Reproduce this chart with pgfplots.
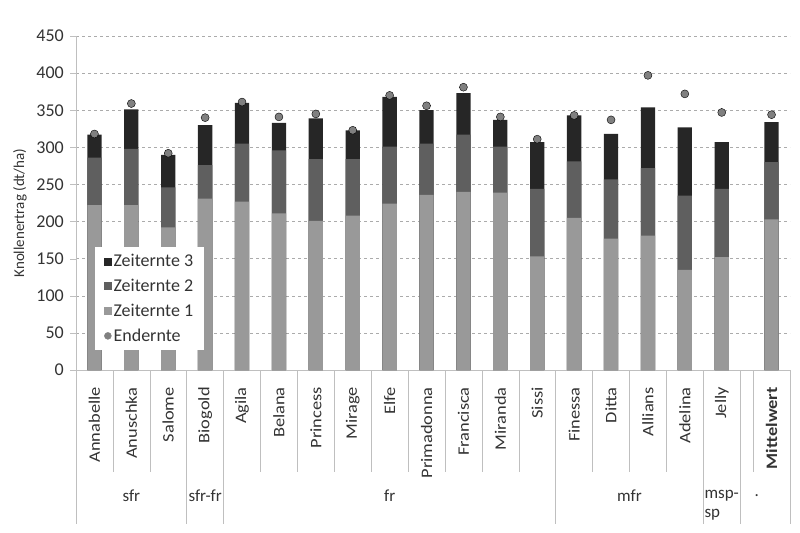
\documentclass[border=0pt]{standalone}
\usepackage{fontspec}
\setmainfont{Carlito}
\newfontfamily\catfont[FakeStretch=1.15]{Carlito}
\usepackage{pgfplots}
\pgfplotsset{compat=1.18}
\usepackage{pgfplotstable}
\definecolor{zA}{HTML}{999999}
\definecolor{zB}{HTML}{5F5F5F}
\definecolor{zC}{HTML}{262626}
\definecolor{dotc}{HTML}{808080}
\definecolor{axc}{HTML}{BFBFBF}
\definecolor{gridc}{HTML}{ABABAB}
\definecolor{txt}{HTML}{333333}

% cumulative tops of Zeiternte 1, 2, 3 and Endernte (dt/ha)
\pgfplotstableread{
x     c1  c2  c3  end
0     222 286 317 318
1     222 298 351 359
2     192 246 290 292
3     231 276 330 340
4     227 305 360 361
5     211 296 333 341
6     201 284 339 345
7     208 284 323 323
8     224 301 368 370
9     236 305 350 356
10    240 317 373 381
11    239 301 337 341
12    153 244 307 311
13    205 281 343 343
14    177 257 318 337
15    181 272 354 397
16    135 235 327 372
17    152 244 307 347
18.35 203 280 334 344
}\data

\begin{document}
\begin{tikzpicture}
\begin{axis}[
  at={(0,0)}, anchor=south west,
  scale only axis, width=714bp, height=334bp,
  xmin=-0.5, xmax=18.85, ymin=0, ymax=450,
  clip=false,
  ytick={0,50,100,150,200,250,300,350,400,450},
  xtick={0,1,2,3,4,5,6,7,8,9,10,11,12,13,14,15,16,17,18.35},
  xticklabels={Annabelle,Anuschka,Salome,Biogold,Agila,Belana,Princess,Mirage,Elfe,Primadonna,Francisca,Miranda,Sissi,Finessa,Ditta,Allians,Adelina,Jelly,\bfseries Mittelwert},
  xticklabel style={rotate=90, anchor=east, inner sep=0pt, text=txt,
    font=\catfont\fontsize{16bp}{18bp}\selectfont},
  xticklabel shift=11bp,
  x tick style={draw=none},
  axis x line*=bottom, axis y line*=left,
  axis line style={axc, -},
  y tick style={axc},
  tick align=outside, major tick length=6bp,
  yticklabel style={font=\fontsize{18bp}{20bp}\selectfont, text=txt, inner sep=0pt, xshift=-6bp},
  /pgf/number format/assume math mode=true,
  ymajorgrids,
  major grid style={gridc, dash pattern=on 3bp off 3bp},
  ylabel={Knollenertrag (dt/ha)},
  every axis y label/.style={at={(axis description cs:-0.0784,0.47)}, rotate=90, anchor=center,
    font=\fontsize{15bp}{18bp}\selectfont, text=txt},
  legend style={at={(axis description cs:0.0266,0.368)}, anchor=north west,
    draw=none, fill=white, font=\fontsize{18bp}{20bp}\selectfont, text=txt,
    row sep=7bp, inner xsep=9bp, inner ysep=5bp},
  legend cell align=left,
]
\addlegendimage{legend image code/.code={\fill[zC] (0bp,-3.5bp) rectangle (7bp,3.5bp);}}
\addlegendentry{Zeiternte 3}
\addlegendimage{legend image code/.code={\fill[zB] (0bp,-3.5bp) rectangle (7bp,3.5bp);}}
\addlegendentry{Zeiternte 2}
\addlegendimage{legend image code/.code={\fill[zA] (0bp,-3.5bp) rectangle (7bp,3.5bp);}}
\addlegendentry{Zeiternte 1}
\addlegendimage{legend image code/.code={\fill[dotc] (3.5bp,0bp) circle (3.5bp);}}
\addlegendentry{Endernte}

\addplot[ybar, bar width=14.3bp, bar shift=0pt, fill=zC, draw=none, forget plot] table[x=x, y=c3]{\data};
\addplot[ybar, bar width=14.3bp, bar shift=0pt, fill=zB, draw=none, forget plot] table[x=x, y=c2]{\data};
\addplot[ybar, bar width=14.3bp, bar shift=0pt, fill=zA, draw=none, forget plot] table[x=x, y=c1]{\data};
\addplot[only marks, mark=*, mark size=4bp, mark options={fill=dotc, draw=none}, forget plot] table[x=x, y=end]{\data};

% category separators
\pgfplotsinvokeforeach{0.5,1.5,2.5,3.5,4.5,5.5,6.5,7.5,8.5,9.5,10.5,11.5,12.5,13.5,14.5,15.5,16.5,17.5,17.85} {
  \draw[axc] (axis cs:#1,0) -- ([yshift=-102bp]axis cs:#1,0);
}
% group separators
\pgfplotsinvokeforeach{-0.5,2.5,3.5,12.5,16.5,17.5,18.85} {
  \draw[axc] (axis cs:#1,0) -- ([yshift=-154bp]axis cs:#1,0);
}
% group labels
\begin{scope}[every node/.style={font=\fontsize{17bp}{19bp}\selectfont, text=txt, inner sep=0pt}]
\node at ([yshift=-126bp]axis cs:1,0) {sfr};
\node at ([yshift=-126bp]axis cs:3,0) {sfr-fr};
\node at ([yshift=-126bp]axis cs:8,0) {fr};
\node at ([yshift=-126bp]axis cs:14.5,0) {mfr};
\node[align=left] at ([yshift=-135bp]axis cs:17,0) {msp-\\sp};
\node at ([yshift=-126bp]axis cs:17.95,0) {.};
\end{scope}
\end{axis}
\pgfresetboundingbox
\path[use as bounding box] (-76bp,-163bp) rectangle (724bp,370bp);
\end{tikzpicture}
\end{document}
